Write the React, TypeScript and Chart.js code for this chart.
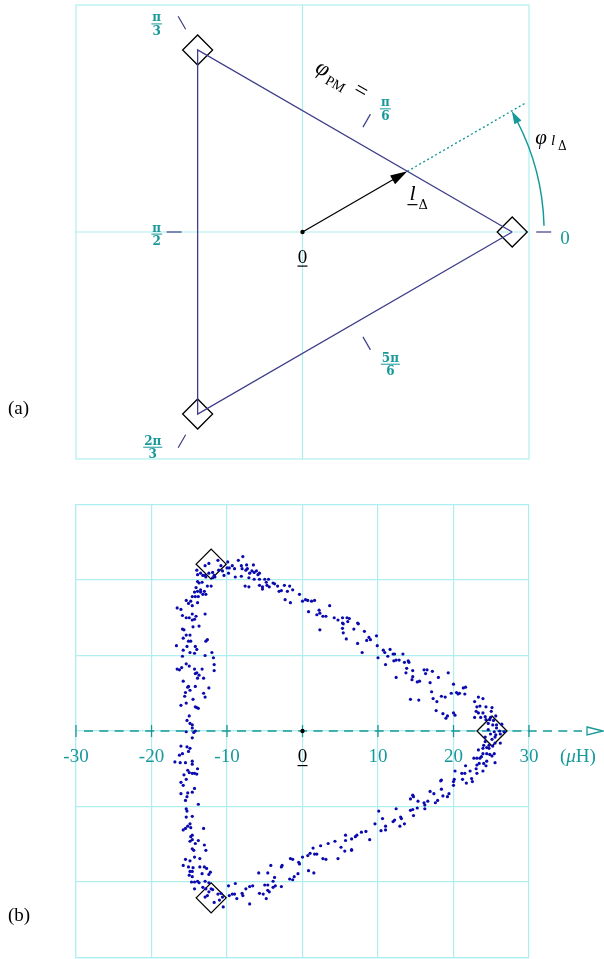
import { useEffect, useRef } from "react";
import { Chart, registerables } from "chart.js";

Chart.register(...registerables);

const GRID = "#afeeee";
const TEAL = "#17999a";
const NAVY = "#3d3d8a";
const DOT = "#0a0aae";
const SERIF = "'Liberation Serif', 'Times New Roman', serif";
const MATH = "'DejaVu Serif', serif";

// ---------- (a) ideal triangle of the phase vectors, unit vertex radius ----------
const phaseAngles = [0, 60, 120, 180, 240, 300]; // degrees
const phaseRadii = [1, 0.5, 1, 0.5, 1, 0.5]; // corners at 1, side midpoints at 1/2
const phaseNum = ["0", "π", "π", "π", "2π", "5π"];
const phaseDen = ["", "6", "3", "2", "3", "6"];
const cornerAngles = [0, 120, 240];
const cornerRadius = 1;
const lDeltaAngle = 30; // degrees
const lDeltaLength = 0.577;
const lDeltaExtension = 1.224;
const phiArcRadius = 1.152;

// ---------- (b) measured inductance locus, μH ----------
const xTicks = [-30, -20, -10, 0, 10, 20, 30];
const measuredCornersX = [25.1, -12.1, -12.1];
const measuredCornersY = [0, 22.1, -22.1];

const topCornerPoints = [
  [-12.9, 21.9], [-14.0, 21.3], [-13.9, 20.7], [-13.5, 20.9], [-13.2, 20.6], [-12.9, 20.6], [-12.4, 20.9],
  [-11.9, 21.0], [-11.7, 20.6], [-11.1, 21.3], [-10.6, 21.2], [-11.2, 22.6], [-10.8, 21.9], [-12.4, 22.2],
  [-9.9, 22.4], [-9.8, 20.9], [-12.8, 20.4], [-11.6, 20.4], [-10.4, 20.6], [-11.9, 20.3], [-13.9, 19.8],
  [-13.7, 19.6], [-13.3, 19.7], [-14.1, 19.0], [-13.5, 18.7], [-12.6, 19.2], [-12.1, 19.2], [-14.3, 18.4],
  [-13.9, 18.5], [-13.5, 18.4], [-13.0, 18.5], [-14.6, 17.8], [-14.2, 17.8], [-13.8, 17.8], [-13.2, 18.1],
  [-12.8, 18.1],
];

const upperSidePoints = [
  [-8.5, 22.6], [-7.9, 23.1], [-9.3, 21.9], [-9.7, 21.6], [-10.0, 21.6], [-9.0, 21.5], [-8.1, 21.9],
  [-8.0, 21.5], [-7.4, 22.0], [-7.3, 21.5], [-6.5, 22.0], [-7.5, 21.3], [-6.7, 21.2], [-6.4, 21.0],
  [-6.1, 21.2], [-5.7, 20.9], [-5.9, 20.7], [-7.0, 20.9], [-8.9, 20.4], [-8.1, 20.5], [-7.1, 20.3],
  [-6.4, 20.1], [-5.7, 20.1], [-5.0, 20.1], [-4.5, 20.1], [-4.8, 19.7], [-3.9, 19.6], [-3.7, 19.5],
  [-5.7, 19.3], [-5.3, 19.1], [-4.7, 19.3], [-4.4, 19.1], [-3.3, 19.2], [-2.4, 19.3], [-1.7, 19.2],
  [-1.3, 18.7], [-2.0, 18.5], [-2.8, 18.6], [-3.1, 18.5], [-7.6, 19.2], [-7.1, 19.1], [-5.3, 18.8],
  [-0.4, 18.1], [0.4, 17.4], [0.0, 17.2], [0.7, 17.3], [1.2, 17.2], [1.6, 17.3], [-2.3, 17.4],
  [-1.6, 17.0], [0.8, 15.8], [2.2, 16.0], [2.3, 15.6], [1.9, 15.4], [2.7, 15.2], [3.6, 16.6],
  [3.1, 15.2], [4.2, 15.0], [4.7, 14.7], [2.3, 13.4], [5.3, 15.0], [5.9, 15.0], [6.2, 14.9],
  [6.0, 14.5], [5.3, 14.3], [5.4, 14.2], [7.3, 14.3], [7.4, 14.2], [5.3, 13.6], [6.8, 13.5],
  [5.4, 13.0], [8.2, 13.2], [8.8, 12.4], [9.8, 12.6], [9.0, 12.1], [8.5, 12.0], [7.3, 11.6],
  [5.8, 12.2], [9.9, 11.3], [7.9, 10.4], [10.7, 10.7], [10.9, 10.4], [11.6, 10.8], [12.0, 10.2],
  [12.2, 10.2], [13.3, 10.2], [11.3, 9.9], [10.0, 9.7], [12.1, 9.3], [12.4, 9.4], [12.8, 9.4],
  [13.5, 9.1], [14.0, 9.3], [14.1, 9.1], [11.0, 8.8], [13.8, 8.3], [14.6, 8.0], [13.7, 7.7],
  [12.4, 7.1], [14.6, 7.2], [14.5, 6.8], [15.2, 6.5], [15.5, 6.6], [14.3, 4.2], [15.4, 4.1],
];

const leftSidePoints = [
  [-15.4, 17.3], [-14.8, 17.2], [-13.9, 17.0], [-15.1, 16.9], [-14.6, 16.6], [-16.6, 16.3], [-16.1, 16.1],
  [-15.9, 15.3], [-14.6, 15.5], [-14.1, 15.2], [-12.9, 15.5], [-15.4, 15.0], [-15.0, 15.0], [-14.6, 14.7],
  [-14.3, 14.8], [-13.7, 13.9], [-14.5, 13.8], [-15.9, 13.5], [-15.7, 13.4], [-15.4, 12.7], [-14.9, 12.7],
  [-15.8, 12.3], [-15.1, 11.9], [-14.8, 11.9], [-12.6, 12.1], [-12.8, 11.9], [-16.7, 11.3], [-15.3, 11.2],
  [-14.2, 11.2], [-14.0, 10.8], [-15.8, 10.7], [-14.9, 10.4], [-14.3, 10.3], [-12.0, 10.4], [-12.9, 10.0],
  [-15.9, 9.9], [-11.8, 9.7], [-15.4, 8.9], [-15.0, 8.6], [-16.0, 8.4], [-16.6, 8.2], [-16.3, 8.1],
  [-14.3, 8.2], [-13.3, 8.2], [-11.7, 8.8], [-11.7, 8.0], [-14.0, 7.7], [-14.2, 7.6], [-13.7, 7.4],
  [-13.1, 7.0], [-13.9, 7.0], [-15.8, 6.6], [-15.1, 5.9], [-15.2, 5.8], [-14.2, 5.9], [-12.4, 5.7],
  [-14.9, 5.4], [-15.5, 5.1], [-13.1, 5.0], [-15.6, 4.6], [-12.9, 4.5], [-14.5, 4.2], [-16.1, 3.4],
  [-15.4, 3.7], [-14.2, 3.2], [-14.0, 3.1], [-13.8, 3.0], [-15.0, 2.0], [-15.3, 1.4], [-14.9, 1.0],
  [-14.6, 0.8], [-14.6, 0.4], [-14.2, 0.0], [-14.4, -0.2], [-15.4, -0.1], [-14.6, -0.9],
  [-16.1, -2.0], [-15.3, -2.1], [-14.9, -2.3], [-15.9, -3.0], [-16.3, -3.2], [-15.1, -2.7], [-16.9, -4.1],
  [-16.2, -4.2], [-15.5, -4.2], [-14.6, -4.0], [-14.6, -4.4], [-13.9, -5.0], [-15.2, -5.2], [-15.0, -5.5],
  [-14.6, -5.6], [-14.3, -5.6], [-14.0, -5.7], [-15.7, -5.8], [-15.4, -6.4], [-16.1, -6.8], [-15.8, -7.2],
  [-14.3, -7.6], [-14.6, -8.1], [-15.2, -8.2], [-16.1, -8.3], [-15.3, -8.7], [-15.5, -9.2], [-13.8, -9.7],
  [-15.4, -10.3], [-15.3, -10.6], [-15.4, -11.4], [-14.6, -11.3], [-14.9, -12.3], [-15.2, -12.6],
  [-14.8, -12.8], [-15.5, -12.9], [-15.8, -13.1], [-13.1, -12.9], [-14.6, -13.8], [-14.8, -14.0],
  [-14.6, -14.4], [-13.8, -14.5], [-14.9, -14.6], [-14.2, -14.9], [-13.0, -15.1], [-14.6, -15.6],
  [-14.4, -15.8], [-12.8, -15.8], [-14.3, -16.7], [-13.6, -16.9], [-15.5, -17.0], [-14.9, -17.2],
  [-15.8, -17.8], [-15.1, -18.0], [-14.5, -18.1], [-13.6, -18.0], [-13.0, -18.0], [-12.7, -18.2],
];

const bottomCornerPoints = [
  [-12.2, -18.7], [-14.9, -18.6], [-14.6, -18.6], [-13.3, -18.9], [-12.4, -19.0], [-15.0, -19.1],
  [-14.6, -19.3], [-14.7, -20.0], [-14.3, -20.0], [-13.9, -19.9], [-13.7, -20.1], [-12.9, -19.9],
  [-12.4, -20.1], [-14.3, -20.9], [-13.2, -20.7], [-12.8, -20.9], [-12.1, -20.9], [-12.4, -21.3],
  [-11.9, -21.0], [-11.2, -21.6], [-10.8, -21.5], [-12.9, -22.0], [-12.6, -21.8], [-10.6, -22.0],
  [-11.7, -22.7], [-11.0, -22.4], [-10.5, -23.3], [-9.8, -20.5],
];

const lowerSidePoints = [
  [-9.7, -21.8], [-9.0, -21.6], [-9.3, -21.6], [-8.7, -22.2], [-7.9, -21.8], [-8.9, -20.2], [-8.0, -21.5],
  [-7.0, -22.9], [-7.5, -20.9], [-6.6, -20.5], [-7.0, -20.6], [-5.7, -21.5], [-5.2, -21.6], [-4.8, -22.2],
  [-4.4, -21.3], [-4.6, -21.1], [-3.9, -20.7], [-3.6, -20.5], [-5.0, -20.4], [-4.6, -20.4], [-2.8, -20.6],
  [-3.9, -19.9], [-3.7, -19.4], [-4.2, -17.8], [-5.8, -18.8], [-4.6, -18.8], [-2.8, -18.0], [-2.7, -17.8],
  [-1.6, -16.9], [-1.3, -17.0], [-0.5, -17.4], [-0.4, -17.6], [0.0, -16.7], [0.7, -16.5], [1.0, -16.2],
  [1.6, -16.3], [1.9, -16.3], [2.7, -16.9], [3.1, -17.0], [4.7, -16.9], [5.6, -15.9], [6.5, -15.8],
  [-1.7, -19.6], [-1.3, -19.7], [-1.1, -19.3], [-0.6, -18.9], [0.8, -18.5], [1.5, -18.8],
  [2.4, -15.2], [3.4, -14.9], [4.3, -14.6], [1.4, -15.5],
  [5.1, -15.4], [5.7, -13.8], [5.7, -14.5], [6.5, -14.3], [6.5, -15.7], [7.0, -14.0], [7.2, -13.8],
  [7.8, -13.4], [8.4, -13.3], [8.9, -14.4], [9.6, -12.3], [10.1, -10.6], [10.6, -11.6], [10.4, -13.2],
  [11.0, -12.6], [11.0, -13.1], [12.0, -12.0], [12.2, -11.8], [12.4, -10.3], [13.0, -11.4], [13.1, -11.6],
  [12.9, -12.6], [13.5, -12.3], [14.3, -10.5], [14.6, -10.4], [14.7, -11.2], [15.2, -10.2], [14.3, -9.0],
  [14.6, -8.5], [14.7, -8.7], [15.3, -9.3], [16.1, -9.5], [16.2, -10.3], [16.2, -9.8], [16.6, -9.3],
  [16.9, -8.0], [17.4, -8.3], [17.6, -9.5], [17.9, -9.2], [18.4, -7.7], [18.4, -6.5], [18.3, -6.6],
  [18.6, -8.6], [19.2, -8.7], [19.4, -8.3], [20.0, -7.2], [20.1, -6.4], [20.2, -5.3], [20.0, -6.7],
  [21.1, -5.6], [21.5, -5.6], [21.6, -4.6], [21.2, -6.4], [21.7, -6.9], [22.4, -6.3], [22.5, -6.7],
  [22.2, -5.3],
];

const rightCornerPoints = [
  [23.1, -5.6], [23.1, -4.5], [23.0, -5.0], [22.7, -3.6], [23.1, -3.6], [23.5, -3.6], [23.7, -3.4],
  [23.9, -3.0], [24.4, -3.0], [23.4, -4.3], [23.9, -5.3], [24.0, -4.3], [24.4, -4.0], [24.3, -4.6],
  [24.8, -3.1], [25.1, -3.3], [25.4, -3.0], [25.5, -4.2], [24.7, -2.3], [25.5, -1.6], [26.2, -1.6],
  [24.2, -1.4], [23.9, -2.3], [23.3, -2.5], [24.0, -1.9], [24.7, -1.9], [25.2, -2.0], [24.4, -2.2],
  [16.1, 8.1], [16.5, 8.1], [17.2, 7.9], [16.3, 7.6], [18.0, 7.1], [19.3, 7.7], [20.0, 6.2],
  [16.9, 6.4], [17.1, 5.2], [17.3, 4.3], [17.8, 3.9], [18.4, 4.6], [18.9, 4.5], [19.7, 5.0],
  [20.4, 5.1], [20.6, 4.9], [20.8, 5.0], [21.3, 5.7], [21.6, 5.8], [21.5, 4.9], [17.7, 2.7],
  [18.6, 2.3], [19.2, 2.0], [19.0, 1.7], [20.0, 2.4], [20.2, 2.1], [23.3, 4.5], [23.9, 4.3],
  [22.8, 3.9], [23.1, 3.2], [23.5, 3.3], [24.3, 3.2], [25.1, 3.1], [23.0, 2.6], [23.3, 2.4],
  [23.9, 2.4], [25.0, 2.6], [22.8, 1.8], [23.6, 1.8], [24.2, 1.9], [24.9, 1.8], [25.6, 2.0],
  [24.3, 1.5], [24.8, 1.5], [25.3, 1.4], [24.6, 1.0], [25.2, 0.8], [25.7, 0.8], [26.4, 0.9],
  [25.7, 0.4], [24.6, 0.2], [25.4, -0.1], [26.1, 0.0], [26.7, -0.1], [24.9, -0.4], [25.6, -0.5],
  [26.2, -0.4], [24.2, -0.8], [25.1, -1.1], [25.5, -0.8],
];

// ---------- drawing helpers ----------
const rad = (d: number) => (d * Math.PI) / 180;
const polar = (r: number, deg: number) => ({ x: r * Math.cos(rad(deg)), y: r * Math.sin(rad(deg)) });
const toXY = (pts: number[][]) => pts.map(([x, y]) => ({ x, y }));

function segment(ctx: CanvasRenderingContext2D, x1: number, y1: number, x2: number, y2: number) {
  ctx.beginPath();
  ctx.moveTo(x1, y1);
  ctx.lineTo(x2, y2);
  ctx.stroke();
}

function arrowHead(ctx: CanvasRenderingContext2D, tx: number, ty: number, dx: number, dy: number, len: number, half: number, color: string) {
  const n = Math.hypot(dx, dy);
  const ux = dx / n, uy = dy / n;
  const bx = tx - ux * len, by = ty - uy * len;
  ctx.beginPath();
  ctx.moveTo(tx, ty);
  ctx.lineTo(bx - uy * half, by + ux * half);
  ctx.lineTo(bx + uy * half, by - ux * half);
  ctx.closePath();
  ctx.fillStyle = color;
  ctx.fill();
}

function text(ctx: CanvasRenderingContext2D, s: string, x: number, y: number, font: string, color: string, align: CanvasTextAlign = "left") {
  ctx.font = font;
  ctx.fillStyle = color;
  ctx.textAlign = align;
  ctx.textBaseline = "alphabetic";
  ctx.fillText(s, x, y);
  return ctx.measureText(s).width;
}

function fraction(ctx: CanvasRenderingContext2D, num: string, den: string, x: number, y: number) {
  const font = `bold 12px ${MATH}`;
  ctx.font = font;
  const w = Math.max(ctx.measureText(num).width, ctx.measureText(den).width) + 2;
  ctx.fillStyle = TEAL;
  ctx.fillRect(x - w / 2, y - 0.5, w, 1);
  text(ctx, num, x, y - 2.5, font, TEAL, "center");
  text(ctx, den, x, y + 11, font, TEAL, "center");
}

// label anchors of panel (a), in the same units as the triangle
const phaseLabelPos = [
  [1.252, -0.03], [0.395, 0.586], [-0.695, 0.99], [-0.695, -0.01], [-0.714, -1.024], [0.419, -0.629],
];

const panelA = {
  id: "panelA",
  beforeDatasetsDraw(chart: any) {
    const { ctx, chartArea: ca } = chart;
    const xs = chart.scales.x, ys = chart.scales.y;
    const ox = xs.getPixelForValue(0), oy = ys.getPixelForValue(0);
    ctx.save();
    ctx.strokeStyle = GRID;
    ctx.lineWidth = 1.2;
    ctx.strokeRect(ca.left, ca.top, ca.right - ca.left, ca.bottom - ca.top);
    segment(ctx, ca.left, oy, ca.right, oy);
    segment(ctx, ox, ca.top, ox, ca.bottom);
    ctx.restore();
  },
  afterDatasetsDraw(chart: any) {
    const { ctx } = chart;
    const xs = chart.scales.x, ys = chart.scales.y;
    const px = (p: { x: number; y: number }) => ({ x: xs.getPixelForValue(p.x), y: ys.getPixelForValue(p.y) });
    const o = px({ x: 0, y: 0 });
    const unit = xs.getPixelForValue(1) - o.x;
    ctx.save();

    // phase marks and their labels
    phaseAngles.forEach((a, i) => {
      const p = px(polar(phaseRadii[i], a));
      const off = phaseRadii[i] === 1 ? [24, 39] : [16, 31];
      const dx = Math.cos(rad(a)), dy = -Math.sin(rad(a));
      ctx.strokeStyle = NAVY;
      ctx.lineWidth = 1.2;
      segment(ctx, p.x + dx * off[0], p.y + dy * off[0], p.x + dx * off[1], p.y + dy * off[1]);
      const lp = px({ x: phaseLabelPos[i][0], y: phaseLabelPos[i][1] });
      if (phaseDen[i] === "") {
        text(ctx, phaseNum[i], lp.x, lp.y + 6, `19px ${SERIF}`, TEAL, "center");
      } else {
        fraction(ctx, phaseNum[i], phaseDen[i], lp.x, lp.y);
      }
    });

    // l_Delta arrow head
    const tip = px(polar(lDeltaLength, lDeltaAngle));
    arrowHead(ctx, tip.x, tip.y, Math.cos(rad(lDeltaAngle)), -Math.sin(rad(lDeltaAngle)), 17, 5, "#000");

    // phase angle arc
    const R = phiArcRadius * unit;
    const endA = lDeltaAngle;
    const headLen = 13;
    const headA = endA - (headLen / R) * (180 / Math.PI);
    ctx.strokeStyle = TEAL;
    ctx.lineWidth = 1.5;
    ctx.beginPath();
    ctx.arc(o.x, o.y, R, -rad(1.5), -rad(headA + 0.5), true);
    ctx.stroke();
    const at = px(polar(phiArcRadius, endA));
    const mid = rad((endA + headA) / 2);
    arrowHead(ctx, at.x, at.y, -Math.sin(mid), -Math.cos(mid), headLen, 4, TEAL);

    // phi_{l_Delta}
    const pl = px({ x: 1.11, y: 0.42 });
    let w = text(ctx, "φ", pl.x, pl.y, `italic 21px ${SERIF}`, "#000");
    text(ctx, "l", pl.x + w + 4, pl.y + 1, `italic 15px ${SERIF}`, "#000");
    text(ctx, "Δ", pl.x + w + 11, pl.y + 6, `12px ${MATH}`, "#000");

    // l_Delta
    const ll = px({ x: 0.51, y: 0.152 });
    w = text(ctx, "l", ll.x, ll.y, `italic 22px ${SERIF}`, "#000");
    ctx.fillStyle = "#000";
    ctx.fillRect(ll.x - 2, ll.y + 4, 10, 1.2);
    text(ctx, "Δ", ll.x + 9, ll.y + 9, `13px ${MATH}`, "#000");

    // phi_PM = along the upper side
    const pm = px({ x: 0.055, y: 0.765 });
    ctx.save();
    ctx.translate(pm.x, pm.y);
    ctx.rotate(rad(30));
    w = text(ctx, "φ", 0, 0, `italic 23px ${SERIF}`, "#000");
    const w2 = text(ctx, "PM", w + 2, 5, `14px ${SERIF}`, "#000");
    text(ctx, "=", w + w2 + 11, 0, `23px ${SERIF}`, "#000");
    ctx.restore();

    // origin
    text(ctx, "0", o.x, o.y + 31, `19px ${SERIF}`, "#000", "center");
    ctx.fillStyle = "#000";
    ctx.fillRect(o.x - 5, o.y + 33.5, 10, 1.2);

    // panel letter
    text(ctx, "(a)", 8, 414, `19px ${SERIF}`, "#000");
    ctx.restore();
  },
};

const panelB = {
  id: "panelB",
  beforeDatasetsDraw(chart: any) {
    const { ctx } = chart;
    const xs = chart.scales.x, ys = chart.scales.y;
    const y0 = ys.getPixelForValue(0);
    const xl = xs.getPixelForValue(xTicks[0]);
    const xr = xs.getPixelForValue(xTicks[xTicks.length - 1]);
    ctx.save();
    ctx.strokeStyle = TEAL;
    ctx.lineWidth = 1.3;
    ctx.setLineDash([9, 6.3]);
    segment(ctx, xl + 8, y0, xr + 53, y0);
    ctx.setLineDash([]);
    xTicks.forEach((v) => {
      const x = xs.getPixelForValue(v);
      segment(ctx, x, y0 - 6, x, y0 + 6);
    });
    const ax = xr + 58;
    ctx.beginPath();
    ctx.moveTo(ax, y0 - 4);
    ctx.lineTo(ax + 16, y0);
    ctx.lineTo(ax, y0 + 4);
    ctx.closePath();
    ctx.fillStyle = "#fff";
    ctx.fill();
    ctx.stroke();
    ctx.restore();
  },
  afterDatasetsDraw(chart: any) {
    const { ctx } = chart;
    const xs = chart.scales.x, ys = chart.scales.y;
    const y0 = ys.getPixelForValue(0);
    ctx.save();
    xTicks.forEach((v) => {
      const x = xs.getPixelForValue(v);
      if (v === 0) {
        text(ctx, "0", x, y0 + 31, `19px ${SERIF}`, "#000", "center");
        ctx.fillStyle = "#000";
        ctx.fillRect(x - 5, y0 + 34, 10, 1.2);
      } else {
        text(ctx, String(v), x, y0 + 31, `19px ${SERIF}`, TEAL, "center");
      }
    });
    const ux = xs.getPixelForValue(xTicks[xTicks.length - 1]) + 31;
    let w = text(ctx, "(", ux, y0 + 31, `19px ${SERIF}`, TEAL);
    w += text(ctx, "μ", ux + w, y0 + 31, `italic 19px ${SERIF}`, TEAL);
    text(ctx, "H)", ux + w, y0 + 31, `19px ${SERIF}`, TEAL);
    text(ctx, "(b)", 8, 451, `19px ${SERIF}`, "#000");
    ctx.restore();
  },
};

const baseOptions = {
  responsive: false,
  maintainAspectRatio: false,
  devicePixelRatio: 1,
  animation: false as const,
  events: [] as any[],
  plugins: { legend: { display: false }, tooltip: { enabled: false } },
};

export default function App() {
  const refA = useRef<HTMLCanvasElement>(null);
  const refB = useRef<HTMLCanvasElement>(null);

  useEffect(() => {
    const corners = cornerAngles.map((a) => polar(cornerRadius, a));
    const tip = polar(lDeltaLength, lDeltaAngle);
    const ext = polar(lDeltaExtension, lDeltaAngle);
    const chartA = new Chart(refA.current!, {
      type: "scatter",
      data: {
        datasets: [
          { type: "line", data: [...corners, corners[0]], borderColor: NAVY, borderWidth: 1.3, pointRadius: 0, fill: false, tension: 0 } as any,
          { data: corners, pointStyle: "rectRot", pointRadius: 15, borderColor: "#000", borderWidth: 1.3, backgroundColor: "rgba(0,0,0,0)" } as any,
          { type: "line", data: [{ x: 0, y: 0 }, polar(lDeltaLength - 0.07, lDeltaAngle)], borderColor: "#000", borderWidth: 1.3, pointRadius: 0 } as any,
          { type: "line", data: [tip, ext], borderColor: TEAL, borderWidth: 1.4, borderDash: [2, 2.6], pointRadius: 0 } as any,
          { data: [{ x: 0, y: 0 }], pointRadius: 2.2, backgroundColor: "#000", borderWidth: 0 } as any,
        ],
      },
      options: {
        ...baseOptions,
        layout: { autoPadding: false, padding: { left: 76, right: 75, top: 5, bottom: 11 } },
        scales: {
          x: { type: "linear", min: -1.08, max: 1.08, display: false },
          y: { type: "linear", min: -1.08, max: 1.08, display: false },
        },
      } as any,
      plugins: [panelA],
    });

    const gridScale = {
      type: "linear",
      min: -30,
      max: 30,
      ticks: { display: false, stepSize: 10 },
      grid: { color: GRID, lineWidth: 1.2, drawTicks: false },
      border: { display: true, color: GRID, width: 1.2 },
    };
    const measured = [
      ...topCornerPoints, ...upperSidePoints, ...leftSidePoints,
      ...bottomCornerPoints, ...lowerSidePoints, ...rightCornerPoints,
    ];
    const chartB = new Chart(refB.current!, {
      type: "scatter",
      data: {
        datasets: [
          { data: toXY(measured), pointRadius: 1.6, backgroundColor: DOT, borderWidth: 0 } as any,
          {
            data: measuredCornersX.map((x, i) => ({ x, y: measuredCornersY[i] })),
            pointStyle: "rectRot", pointRadius: 15, borderColor: "#000", borderWidth: 1.3, backgroundColor: "rgba(0,0,0,0)",
          } as any,
          { data: [{ x: 0, y: 0 }], pointRadius: 2.2, backgroundColor: "#000", borderWidth: 0 } as any,
        ],
      },
      options: {
        ...baseOptions,
        layout: { autoPadding: false, padding: { left: 76, right: 75, top: 34.5, bottom: 1.5 } },
        scales: { x: gridScale, y: gridScale },
      } as any,
      plugins: [panelB],
    });

    return () => {
      chartA.destroy();
      chartB.destroy();
    };
  }, []);

  return (
    <div style={{ position: "absolute", left: 0, top: 0, width: 604, height: 959, background: "#fff" }}>
      <canvas ref={refA} width={604} height={470} style={{ position: "absolute", left: 0, top: 0 }} />
      <canvas ref={refB} width={604} height={489} style={{ position: "absolute", left: 0, top: 470 }} />
    </div>
  );
}
